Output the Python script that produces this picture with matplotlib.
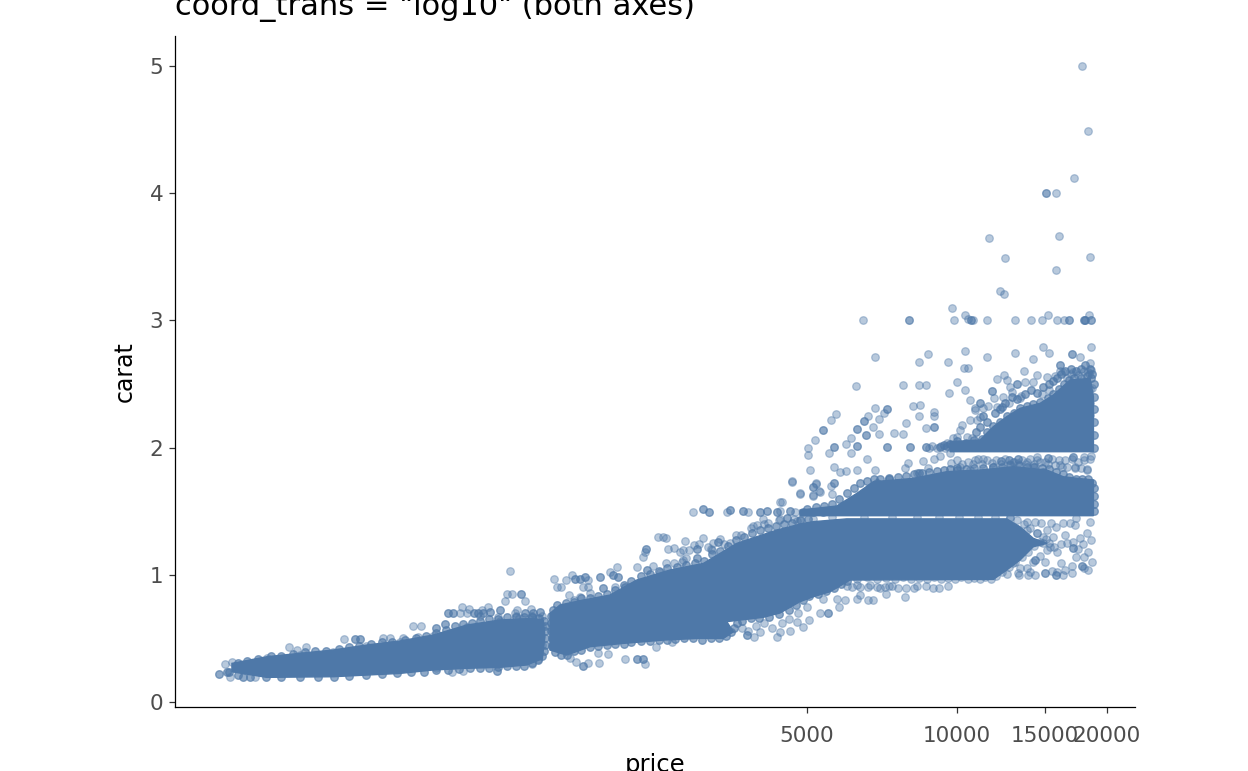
import numpy as np
import matplotlib
matplotlib.use("Agg")
import matplotlib.pyplot as plt

BLUE = "#4E78A8"

# dense regions, as outlines (price, carat)
low_mass_price = [350, 411, 479, 559, 652, 761, 888, 1036, 1208, 1411, 1477, 1488, 1470, 1367, 1208, 1036, 888, 761, 652, 559, 411, 350]
low_mass_carat = [.304, .356, .383, .409, .448, .48, .527, .605, .645, .658, .64, .514, .34, .291, .273, .265, .252, .225, .212, .199, .194, .238]

mid_mass_price = [1523, 1595, 1777, 2010, 2274, 2653, 3096, 3611, 4344, 4914, 5147, 6003, 12580, 13380, 14230, 15140,
                  14230, 13380, 12580, 11830, 6098, 5558, 5147, 4838, 4412, 4084, 3448, 3556, 3395, 3000, 2572, 2138, 1833, 1645, 1523]
mid_mass_carat = [.697, .763, .802, .841, .959, 1.038, 1.09, 1.247, 1.352, 1.405, 1.418, 1.44, 1.44, 1.378, 1.287, 1.247,
                  1.221, 1.116, 1.038, .964, .959, .867, .828, .789, .70, .666, .632, .553, .50, .50, .487, .461, .435, .369, .409]

row15_price = [4838, 5733, 6290, 6790, 8170, 9534, 11120, 12975, 15140, 16350, 18790, 18790, 4838]
row15_carat = [1.509, 1.541, 1.64, 1.732, 1.758, 1.811, 1.824, 1.85, 1.824, 1.771, 1.745, 1.465, 1.465]

row20_price = [9683, 11120, 11830, 12580, 13380, 14680, 15610, 16860, 18500, 18790, 18790, 9683]
row20_carat = [2.047, 2.06, 2.165, 2.243, 2.309, 2.348, 2.414, 2.531, 2.545, 2.40, 1.968, 1.968]

# single diamonds outside the dense regions
top_price = [17850, 18360, 17150, 15830, 16050, 11580, 12490, 18530, 15810, 12180, 12450, 9760, 6486, 9860, 10380, 10500, 10780, 11470, 13100, 14100, 14790, 15210, 15880, 16380, 18380,
             6835, 6260, 7803, 8403, 8652, 8375, 8758, 9592, 10360, 10345, 10540, 11510, 13060, 14900, 15280, 14210, 17630, 18610, 18500, 13650, 12410, 12015, 12600, 10015, 9636, 10390, 13720, 12780, 12920, 12350, 11885, 13470, 10640, 11560, 10850,
             8170, 8440, 8990, 9000, 8390, 7890, 8650, 6835, 7125, 6980, 6615, 6780, 5705, 5585, 5185, 5030, 5030, 6970, 7470, 7790, 6115, 5985, 5530, 6115, 6605, 5068, 5665, 6290, 6855, 5830, 5976, 4670, 4838, 5147, 5210, 5290, 5585, 5600, 5130]
top_carat = [5.0, 4.49, 4.12, 4.0, 3.66, 3.65, 3.49, 3.5, 3.4, 3.23, 3.21, 3.1, 3.0, 3.0, 3.04, 3.01, 3.0, 3.0, 3.0, 3.0, 3.0, 3.04, 3.0, 3.0, 3.04,
             2.715, 2.484, 2.495, 2.495, 2.495, 2.673, 2.733, 2.673, 2.762, 2.623, 2.623, 2.712, 2.744, 2.794, 2.746, 2.694, 2.712, 2.794, 2.663, 2.605, 2.573, 2.537, 2.531, 2.516, 2.427, 2.453, 2.516, 2.474, 2.434, 2.395, 2.393, 2.408, 2.377, 2.327, 2.309,
             2.324, 2.335, 2.283, 2.248, 2.246, 2.196, 2.154, 2.314, 2.27, 2.225, 2.246, 2.165, 2.267, 2.217, 2.057, 1.997, 1.944, 2.107, 2.115, 2.104, 2.073, 2.026, 1.955, 1.958, 1.908, 1.824, 1.845, 1.827, 1.827, 1.806, 1.813, 1.735, 1.638, 1.688, 1.711, 1.656, 1.70, 1.635, 1.62]

# between the 2.0 and 1.7 rows, and above the 2.0 mass
gap_price = [9250, 9665, 8530, 8990, 7985, 7860, 8755, 8300, 9710, 10140, 10860, 11290, 14450, 16100, 17950, 18560, 16660, 17290, 18200, 14240, 10620, 11825, 12975, 13800, 14680,
             10230, 10140, 10460, 9990, 10700, 9534, 9830, 10950, 10620, 11120, 11290, 10860, 12015, 12720, 13380, 14240, 14450, 15140, 16350, 17100, 18300, 18560, 18500, 18500, 18500]
gap_carat = [1.934, 1.955, 1.897, 1.908, 1.876, 1.837, 1.837, 1.798, 1.876, 1.85, 1.902, 1.908, 1.923, 1.863, 1.929, 1.934, 1.85, 1.837, 1.824, 1.85, 1.824, 1.85, 1.889, 1.889, 1.889,
             2.178, 2.138, 2.086, 2.086, 2.073, 2.033, 2.073, 2.217, 2.217, 2.243, 2.309, 2.296, 2.322, 2.348, 2.387, 2.518, 2.571, 2.558, 2.597, 2.597, 2.597, 2.61, 2.46, 2.35, 2.26]

# right hand tail of the 1 carat mass
tail_price = [13800, 14320, 14750, 15420, 15800, 16350, 16850, 17350, 17250, 18500, 17660, 18200, 18560, 16600, 15600, 15140, 14450, 13800, 15680, 14900, 15140, 16200, 17300, 17950, 18300, 17000, 14320, 16350, 17000, 13900, 13380, 12975, 12580, 13280]
tail_carat = [1.418, 1.418, 1.405, 1.405, 1.378, 1.405, 1.405, 1.444, 1.391, 1.418, 1.287, 1.326, 1.274, 1.247, 1.30, 1.352, 1.326, 1.352, 1.221, 1.247, 1.195, 1.09, 1.137, 1.137, 1.038, 1.069, .998, .998, 1.017, .998, 1.051, 1.09, 1.006, 1.012]

# below the 1 carat mass, and left of the 1.5 row
under_price = [6150, 6384, 6640, 6895, 7170, 7395, 8195, 8650, 8965, 9185, 9580, 7860, 7195, 6384, 6310, 6640, 6790, 5733, 5965, 5790, 4412, 4412, 4550, 4870, 5147, 4763]
under_carat = [.907, .901, .901, .907, .907, .912, .899, .912, .899, .899, .912, .828, .846, .841, .807, .799, .799, .812, .799, .749, 1.575, 1.436, 1.444, 1.431, 1.439, 1.423]

# around the step above the 0.7-1.0 mass
step_price = [2955, 3448, 3808, 4730, 2514, 2572, 2600, 2631, 2700, 2340, 2368, 2844, 3096, 2960, 3030, 3240, 3340, 3500, 3690, 3900, 3960, 4070, 4170, 4446, 4838, 4656, 5147, 5147, 5300, 5220, 4405, 4550,
              2822, 2890, 2778, 2860, 3000, 3160, 3220, 2700, 2822, 1552, 1640, 1684, 1571, 1602, 1818, 2075, 2010, 1771, 2055, 2204, 2274, 2533, 1662, 1700, 1750, 1833, 1818,
              1670, 1717, 1818, 1912, 1995, 2155, 2368, 1905, 2490, 2680, 3915, 4020, 4344, 4405, 4622, 4782, 4907, 5033, 5300, 5390]
step_carat = [1.496, 1.496, 1.496, 1.496, 1.295, 1.30, 1.287, 1.2, 1.213, 1.137, 1.182, 1.268, 1.287, 1.234, 1.242, 1.247, 1.279, 1.247, 1.313, 1.386, 1.39, 1.436, 1.405, 1.575, 1.64, 1.732, 1.627, 1.693, 1.654, 1.719, 1.504, 1.444,
              1.195, 1.195, 1.182, 1.129, 1.129, 1.221, 1.195, 1.09, 1.116, .97, .959, .998, .907, .901, .959, 1.059, 1.025, .907, .907, .901, 1.064, 1.025, .841, .802, .828, .854, .907,
              .349, .317, .309, .309, .377, .338, .299, .383, .435, .469, .508, .553, .508, .553, .558, .626, .587, .645, .697, .81]

# lower left part, 0.2-1.0 carat
low_price = [1266, 1357, 1276, 1250, 1235, 1005, 1036, 1295, 1015, 1046, 1145, 1110, 1310, 1393, 810, 839, 773, 727, 704, 588, 829, 494, 456, 472, 967, 1020, 899, 339, 350, 347, 390,
             411, 479, 559, 652, 761, 888, 1036, 1208, 1320, 1400, 1440, 1470, 1470, 1440, 1400]
low_carat = [1.027, .797, .849, .849, .797, .702, .702, .702, .749, .729, .749, .723, .723, .729, .60, .60, .50, .50, .50, .498, .514, .43, .43, .409, .236, .244, .265, .299, .317, .199, .199,
             .343, .37, .395, .44, .47, .52, .59, .64, .66, .665, .65, .60, .45, .34, .30]

# spots stacked on each other, drawn twice, so they look darker
stack_price = [15070, 7998, 10670, 16810, 17990, 18110, 18560, 16990, 16100, 13180, 11740, 11120, 12200, 9000, 7225, 6505, 6307, 5390, 6565,
               5665, 6310, 7225, 8060, 8650, 9222, 9534, 12250, 12720, 13270, 15260, 17100, 14900, 9990, 17100, 17800, 15000, 15800, 14320,
               3096, 3177, 3500, 3720, 4020, 4150, 4344, 4622, 4914, 5147, 5390, 2375, 1710, 1750, 1791, 1919, 2041, 2089, 1945, 2153, 2381, 1771, 2282, 2340, 3785, 5515, 3316, 3000,
               1331, 949, 974, 1070, 1093, 1119, 1154, 1208, 1357, 1411, 1452, 899, 937, 618, 633, 1190, 329, 342, 369, 5665, 6895, 7300, 8380]
stack_carat = [4.0, 3.0, 3.0, 3.0, 3.0, 3.0, 3.0, 2.736, 2.652, 2.497, 2.445, 2.348, 2.303, 2.159, 2.303, 2.212, 2.144, 2.141, 2.096,
               2.002, 2.012, 2.002, 2.007, 2.007, 2.002, 2.012, 1.897, 1.902, 1.908, 1.916, 1.929, 1.811, 1.824, 1.208, 1.069, 1.012, .998, 1.116,
               1.517, 1.496, 1.51, 1.502, 1.496, 1.50, 1.496, 1.505, 1.496, 1.496, 1.496, 1.2, .967, .967, .985, .98, .998, .985, .899, .901, 1.038, .286, .335, .335, .527, .697, 1.26, 1.2,
               .849, .702, .702, .702, .702, .702, .71, .72, .70, .702, .705, .579, .613, .495, .498, .246, .22, .238, .199, 1.72, 1.724, 1.751, 1.798]

# points along the rims of the dense regions
rim_low_price = [360, 375, 395, 420, 440, 465, 490, 515, 540, 575, 600, 630, 665, 700, 735, 780, 820, 860, 900, 940, 980, 1020, 1060, 1100, 1150, 1200, 1250, 1300, 1350, 1400, 1450, 1480, 1485, 1490, 1490, 1488, 1480, 1465, 1440, 1400,
                 1350, 1300, 1250, 1200, 1150, 1100, 1050, 1000, 950, 900, 850, 800, 750, 700, 650, 600, 560, 520, 480, 440, 410, 380, 360, 345]
rim_low_carat = [.31, .325, .335, .36, .365, .375, .39, .40, .405, .415, .43, .44, .455, .47, .475, .49, .50, .52, .54, .57, .60, .61, .62, .64, .65, .655, .665, .665, .665, .665, .66, .64, .60, .56, .50, .45, .40, .36, .33, .31,
                 .285, .28, .28, .275, .27, .27, .265, .26, .255, .25, .24, .235, .225, .22, .21, .205, .20, .195, .195, .195, .195, .2, .21, .235]

rim_mid_low_price = [1535, 1535, 1530, 1530, 1530, 1545, 1570, 1560, 1600, 1650, 1700, 1760, 1830, 1900, 1980, 2060, 2140, 2220, 2320, 2420, 2520, 2620, 2720, 2830, 2950, 3080, 3200, 3320, 3430, 3520, 3560, 3620, 3700, 3850, 4000, 4200, 4400, 4600, 4750, 4900, 5050, 5250, 5450, 5650, 5850, 6000]
rim_mid_low_carat = [.44, .50, .56, .62, .68, .72, .76, .39, .37, .37, .40, .41, .43, .44, .45, .46, .46, .47, .48, .48, .49, .49, .495, .50, .50, .49, .50, .50, .52, .55, .58, .62, .64, .66, .66, .67, .69, .72, .76, .80, .83, .85, .87, .90, .93, .95]

rim_mid_up_price = [1640, 1700, 1760, 1830, 1900, 1980, 2060, 2140, 2220, 2320, 2420, 2520, 2620, 2740, 2860, 2980, 3100, 3220, 3340, 3470, 3600, 3740, 3880, 4030, 4180, 4340, 4500, 4670, 4840, 5020]
rim_mid_up_carat = [.78, .79, .82, .82, .83, .85, .88, .92, .95, .99, 1.01, 1.03, 1.05, 1.06, 1.08, 1.09, 1.11, 1.16, 1.19, 1.23, 1.27, 1.30, 1.33, 1.35, 1.37, 1.38, 1.40, 1.41, 1.43, 1.44]

rim_one_price = [6300, 6600, 6900, 7200, 7500, 7800, 8100, 8400, 8700, 9000, 9300, 9600, 9900, 10200, 10500, 10800, 11100, 11400, 11700, 12000, 12300, 12700, 13100, 13500, 13900, 14300, 14700, 15100, 15300, 14900, 14500, 14000, 13600, 13200, 12800,
                 5600, 6500, 7400, 8300, 9200, 10100, 11000, 11900, 12800]
rim_one_carat = [.97, .98, .965, .975, .97, .98, .965, .975, .97, .98, .965, .975, .97, .98, .965, .975, .97, .98, .97, .99, 1.02, 1.06, 1.10, 1.14, 1.18, 1.23, 1.26, 1.28, 1.25, 1.30, 1.33, 1.37, 1.40, 1.43, 1.45,
                 1.455, 1.455, 1.455, 1.455, 1.455, 1.455, 1.455, 1.455, 1.455]

rim_15_price = [5000, 5200, 5400, 5600, 5800, 6000, 6200, 6400, 6600, 6800, 7000, 7300, 7600, 7900, 8200, 8500, 8800, 9100, 9400, 9700, 10000, 10400, 10800, 11300, 11800, 12300, 12800, 13300, 13800, 14300, 14800, 15300, 15800, 16300, 16800, 17300, 17800, 18300, 18700, 18800, 18800, 18800, 18800]
rim_15_carat = [1.52, 1.53, 1.54, 1.56, 1.6, 1.64, 1.68, 1.72, 1.74, 1.75, 1.75, 1.76, 1.77, 1.78, 1.79, 1.80, 1.81, 1.82, 1.825, 1.83, 1.84, 1.835, 1.84, 1.84, 1.85, 1.85, 1.86, 1.86, 1.85, 1.85, 1.84, 1.83, 1.81, 1.79, 1.77, 1.75, 1.75, 1.75, 1.72, 1.68, 1.62, 1.56, 1.50]

rim_20_price = [9400, 9700, 10000, 10400, 10800, 11200, 11500, 11800, 12200, 12600, 13000, 13400, 13800, 14200, 14700, 15200, 15600, 16000, 16400, 16800, 17200, 17700, 18200, 18600, 18800, 18850, 18850, 18850, 18850, 18850,
                12500, 12900, 13200, 13700, 14100, 14500, 14900, 15300, 15600, 15900, 16200, 16500, 16900, 17300, 17700, 18100, 18500, 18700, 11900, 12300, 11500, 11100, 11300, 10900]
rim_20_carat = [2.02, 2.03, 2.05, 2.04, 2.06, 2.07, 2.12, 2.17, 2.2, 2.25, 2.27, 2.31, 2.33, 2.34, 2.36, 2.39, 2.42, 2.46, 2.5, 2.53, 2.55, 2.55, 2.56, 2.55, 2.5, 2.4, 2.3, 2.2, 2.1, 2.0,
                2.35, 2.40, 2.38, 2.42, 2.45, 2.43, 2.48, 2.5, 2.52, 2.55, 2.58, 2.6, 2.62, 2.6, 2.62, 2.65, 2.62, 2.58, 2.27, 2.32, 2.2, 2.16, 2.25, 2.12]

# second look: the 1.9 row, the tail, the 0.9 row and the top of the masses
extra_price = [10000, 10500, 11000, 11500, 12000, 12500, 13000, 13500, 14000, 14500, 15000, 15500, 16000, 16500, 17000, 17500, 18000, 18500,
               10250, 10750, 11250, 11750, 12250, 12750, 13250, 13750, 14250, 15250, 15750, 16250, 17250, 17750, 18250,
               8800, 8900, 9100, 9300, 9450,
               15400, 15900, 16200, 16500, 17100, 17500, 17900, 18300, 18700, 18000, 15900, 15500, 16500, 15000, 14700, 14200, 13800, 14000, 13300,
               6000, 6300, 6700, 7000, 7300, 7600, 7900, 8300, 5400, 5700,
               3700, 3800, 3950, 4100, 4250, 4450, 4600, 4800, 5000,
               15700, 16100, 16600, 16950, 17500, 18000, 18400, 18700, 15300, 14800,
               2450, 2600, 2800, 3000, 3200, 3400, 3600, 3850, 4100, 4400, 4700,
               1100, 1200, 1300, 1400, 1470]
extra_carat = [1.90, 1.89, 1.91, 1.90, 1.90, 1.91, 1.89, 1.90, 1.91, 1.90, 1.89, 1.91, 1.90, 1.90, 1.91, 1.89, 1.90, 1.91,
               1.87, 1.875, 1.87, 1.88, 1.87, 1.875, 1.88, 1.87, 1.875, 1.87, 1.86, 1.85, 1.85, 1.84, 1.83,
               2.0, 2.01, 2.0, 2.01, 2.0,
               1.22, 1.18, 1.24, 1.31, 1.26, 1.2, 1.24, 1.18, 1.10, 1.05, 1.02, 1.03, 1.04, 1.1, 1.15, 1.1, 1.05, 1.02, 1.0,
               .91, .92, .92, .90, .91, .90, .90, .91, .91, .93,
               .58, .56, .6, .62, .58, .62, .65, .7, .75,
               2.56, 2.6, 2.55, 2.58, 2.57, 2.6, 2.58, 2.47, 2.45, 2.42,
               1.07, 1.09, 1.1, 1.13, 1.2, 1.24, 1.31, 1.37, 1.4, 1.43, 1.44,
               .68, .67, .68, .68, .68]

x_ticks = [5000, 10000, 15000, 20000]
y_ticks = [0, 1, 2, 3, 4, 5]

fig = plt.figure(figsize=(12.48, 7.71), dpi=100)
ax = fig.add_axes([175/1248, 1-707/771, 960/1248, 671/771])
ax.set_xscale("log")

# solid parts first
for px, py in [(low_mass_price, low_mass_carat), (mid_mass_price, mid_mass_carat),
               (row15_price, row15_carat), (row20_price, row20_carat)]:
    ax.fill(px, py, color=BLUE, lw=1.0, zorder=2)

all_price = (top_price + gap_price + tail_price + under_price + step_price + low_price + rim_low_price
             + rim_mid_low_price + rim_mid_up_price + rim_one_price + rim_15_price + rim_20_price + extra_price)
all_carat = (top_carat + gap_carat + tail_carat + under_carat + step_carat + low_carat + rim_low_carat
             + rim_mid_low_carat + rim_mid_up_carat + rim_one_carat + rim_15_carat + rim_20_carat + extra_carat)
ax.scatter(all_price, all_carat, s=30, color=BLUE, alpha=0.4, linewidths=0.9, zorder=3)
ax.scatter(np.repeat(stack_price, 2), np.repeat(stack_carat, 2), s=30, color=BLUE, alpha=0.4, linewidths=0.9, zorder=3)
# the rims again, the edge of the mass is nearly solid in the reference
ax.scatter(rim_low_price + rim_mid_low_price + rim_mid_up_price + rim_15_price + rim_20_price,
           rim_low_carat + rim_mid_low_carat + rim_mid_up_carat + rim_15_carat + rim_20_carat,
           s=30, color=BLUE, alpha=0.4, linewidths=0.9, zorder=3)

ax.set_xlim(269, 22770)
ax.set_ylim(-0.039, 5.236)
ax.set_xticks(x_ticks)
ax.set_xticklabels([str(t) for t in x_ticks])
ax.xaxis.set_minor_locator(matplotlib.ticker.NullLocator())
ax.set_yticks(y_ticks)
ax.tick_params(axis="both", length=4.5, width=0.9, color="#333333", labelcolor="#4D4D4D", labelsize=15.5, pad=4)
ax.tick_params(axis="x", pad=9)
for s in ["top", "right"]:
    ax.spines[s].set_visible(False)
for s in ["left", "bottom"]:
    ax.spines[s].set_linewidth(0.9)

ax.set_xlabel("price", fontsize=17.5)
ax.set_ylabel("carat", fontsize=17)
ax.xaxis.set_label_coords(0.5, -0.0685)
ax.yaxis.set_label_coords(-0.04, 0.5)
fig.text(175/1248, 1-15.5/771, 'coord_trans = "log10" (both axes)', fontsize=22, ha="left", va="baseline")

fig.savefig("out.png", dpi=100)
